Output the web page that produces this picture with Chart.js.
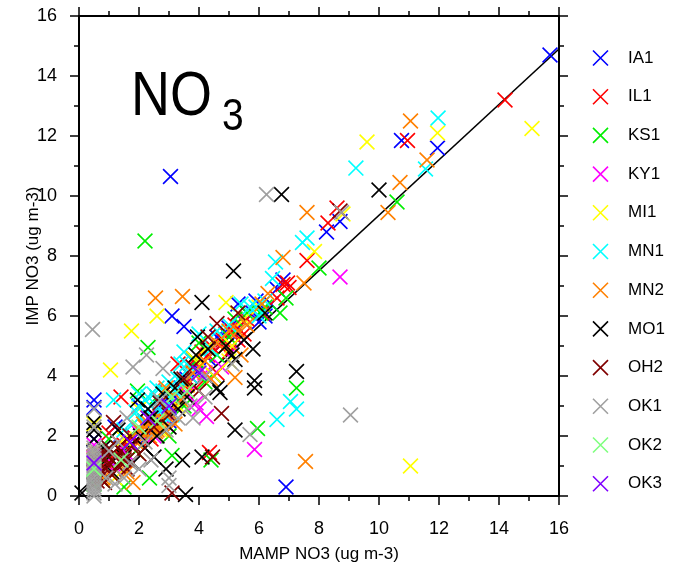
<!DOCTYPE html>
<html lang="en">
<head>
    <meta charset="UTF-8">
    <title>NO3 scatter</title>
    <style>
        body { margin: 0; background: #fff; }
        #chartBox { width: 674px; height: 573px; }
    </style>
    <script src="https://cdn.jsdelivr.net/npm/chart.js@4.4.6/dist/chart.umd.min.js"></script>
</head>
<body>
    <div id="chartBox"><canvas id="no3Chart" width="674" height="573"></canvas></div>
    <script>
        // site names and colours (legend order)
        const sites = ['IA1', 'IL1', 'KS1', 'KY1', 'MI1', 'MN1', 'MN2', 'MO1', 'OH2', 'OK1', 'OK2', 'OK3'];
        const siteColors = ['#0000ff', '#ff0000', '#00ee00', '#ff00ff', '#ffff00', '#00ffff',
                            '#ff8000', '#000000', '#800000', '#a0a0a0', '#80ff80', '#8000ff'];

        // [MAMP, IMP] pairs, ug m-3
        const IA1 = [[15.7,14.7],[11.95,11.6],[10.75,11.85],[3.05,10.65],[6.9,0.3],[8.7,9.15],[8.25,8.8],
            [3.1,6.0],[3.5,5.65],[0.5,3.2],[0.5,2.95],[5.8,6.1],[6.0,5.8],[5.5,5.8],[6.2,6.0],[5.3,6.4],
            [4.8,5.1],[4.3,4.6],[4.0,4.2],[3.6,3.9],[3.2,3.3],[2.8,3.1],[2.5,2.7],[2.2,2.4],[1.8,2.0],
            [1.4,1.6],[1.0,1.2],[0.7,0.9],[3.0,2.5],[4.5,4.0],[6.4,6.4],[6.8,7.2],[6.6,6.9],[5.0,5.6],
            [2.0,3.0],[1.2,2.3],[3.8,4.6],[0.5,1.9],[4.6,5.3],[5.9,6.5],[5.2,5.3],[3.4,3.6],[2.3,2.0]];
        const IL1 = [[14.2,13.2],[10.95,11.85],[8.6,9.6],[8.3,9.1],[7.6,7.85],[6.95,7.1],[1.4,3.3],[4.35,1.45],
            [4.9,5.4],[5.1,5.5],[5.3,5.2],[4.7,5.0],[4.3,4.7],[4.0,4.3],[3.7,4.0],[3.5,3.7],[3.0,3.2],
            [2.6,2.8],[2.2,2.5],[1.8,2.0],[1.5,1.7],[1.2,1.4],[0.9,1.1],[0.6,0.8],[0.5,1.3],[2.9,3.5],
            [4.6,4.1],[5.6,5.9],[6.1,6.1],[5.0,4.8],[3.3,4.4],[2.4,1.9],[1.0,2.1],[6.6,6.6],[4.4,5.0],
            [3.9,3.6],[7.0,6.95],[6.8,7.05],[4.8,5.2],[5.2,5.7],[4.1,4.8],[3.8,4.5],[5.5,5.4]];
        const KS1 = [[2.2,8.5],[10.6,9.8],[8.0,7.6],[7.25,3.6],[5.95,2.25],[2.3,4.95],[1.5,0.3],[6.9,6.6],
            [5.6,6.1],[6.05,6.1],[6.7,6.1],[1.95,3.5],[3.1,1.35],[2.35,0.6],[4.4,1.2],[0.5,0.4],[3.9,4.5],
            [4.2,3.8],[3.5,3.0],[2.8,2.5],[2.0,2.2],[1.3,1.0],[3.0,2.0],[4.0,5.1],[0.8,0.5],[5.0,5.3],
            [1.9,1.5],[2.6,3.3],[4.6,4.7],[1.0,1.9],[5.2,5.9],[6.2,6.3]];
        const KY1 = [[8.7,7.3],[5.85,1.55],[4.0,2.9],[4.25,2.65],[2.9,2.4],[3.2,3.0],[2.0,2.1],[1.6,1.4],
            [3.6,3.4],[4.2,4.1],[2.5,2.0],[1.2,1.0],[0.5,1.7],[2.3,2.9],[3.9,3.1],[5.2,4.9],[0.8,1.2],[4.75,4.3]];
        const MI1 = [[15.1,12.25],[11.05,1.0],[9.6,11.8],[11.95,12.1],[8.8,9.4],[7.85,8.15],[1.75,5.5],
            [1.05,4.2],[4.9,6.45],[2.6,6.0],[5.1,5.0],[4.8,5.3],[4.1,4.4],[3.6,3.7],[3.0,3.4],[2.4,2.6],
            [2.0,2.9],[1.5,1.9],[1.0,1.3],[0.5,2.4],[0.5,1.5],[5.5,5.9],[3.3,3.0],[6.0,6.3],[2.7,2.2],
            [4.5,4.0],[1.2,0.6],[5.0,4.5],[4.3,5.0],[3.8,4.6]];
        const MN1 = [[11.97,12.6],[9.23,10.93],[11.55,10.9],[7.6,8.6],[7.45,8.45],[6.55,7.8],[6.45,7.25],
            [7.25,2.9],[7.05,3.15],[6.6,2.55],[1.15,3.2],[5.4,6.4],[5.7,6.3],[6.2,6.5],[4.0,5.4],[3.4,4.4],
            [3.0,3.8],[2.8,3.5],[2.6,3.2],[2.4,3.0],[2.2,2.8],[2.0,2.6],[2.5,2.6],[2.9,3.0],[3.2,3.5],
            [2.3,3.3],[1.8,2.4],[1.5,2.2],[1.0,1.6],[3.7,4.0],[4.4,4.9],[2.7,2.9],[2.1,3.1],[0.5,0.8],
            [3.1,2.7],[5.0,5.7],[3.5,4.8],[2.6,3.6],[2.3,2.4],[2.5,3.4],[2.8,2.7],[3.3,3.9],[1.9,2.8],
            [2.0,3.4],[3.6,4.4],[4.6,5.5],[5.9,6.3],[6.0,6.0]];
        const MN2 = [[11.05,12.5],[11.6,11.2],[10.7,10.45],[10.3,9.45],[7.6,9.45],[7.55,1.15],[6.8,7.95],
            [7.5,7.1],[6.3,6.75],[2.55,6.6],[3.45,6.65],[5.2,3.95],[2.2,2.1],[2.3,2.2],[2.4,2.3],[2.5,2.4],
            [2.2,2.3],[2.35,2.0],[2.6,2.2],[2.1,1.9],[2.45,2.5],[2.3,2.45],[2.7,2.6],[2.0,2.2],[2.55,2.15],
            [2.15,2.4],[1.9,1.8],[1.5,1.3],[1.2,0.9],[0.8,0.6],[0.5,1.2],[3.0,2.8],[3.4,3.2],[3.8,4.1],
            [4.2,4.5],[4.6,5.1],[5.0,5.5],[5.6,5.7],[6.1,6.4],[4.4,3.9],[3.2,2.4],[1.6,0.8],[2.9,3.6],
            [5.4,4.7],[1.8,0.45],[3.6,3.7],[4.9,5.0],[5.3,5.5],[2.8,2.2]];
        const MO1 = [[6.75,10.05],[10.0,10.2],[5.15,7.5],[4.1,6.45],[7.25,4.15],[5.85,3.85],[5.85,3.6],
            [5.2,2.2],[3.55,0.05],[4.1,1.3],[5.2,4.55],[5.1,4.7],[1.95,3.2],[0.5,2.2],[0.5,2.45],[0.5,1.9],
            [2.05,2.0],[3.45,1.2],[2.4,2.6],[2.8,3.4],[3.2,3.6],[3.6,3.3],[3.9,4.7],[4.3,4.9],[2.2,1.6],
            [1.5,1.3],[1.1,0.8],[0.8,1.6],[2.6,2.0],[3.0,2.3],[4.6,3.6],[5.5,5.2],[5.8,4.9],[3.3,2.9],
            [1.8,1.1],[2.9,0.9],[1.3,2.2],[4.7,3.45],[3.95,5.3],[0.1,0.1],[2.5,1.3],[6.2,6.1],[1.0,1.3],
            [4.9,5.0],[3.4,3.9],[2.3,2.9],[1.6,1.9]];
        const OH2 = [[3.1,0.1],[4.45,1.3],[4.75,2.75],[4.6,5.75],[4.3,5.3],[8.7,9.5],[0.5,0.8],[0.6,1.0],
            [0.7,0.6],[0.8,1.2],[0.9,0.9],[1.0,1.1],[1.1,0.7],[1.2,1.3],[1.3,1.0],[1.4,1.5],[1.5,1.2],
            [1.6,0.9],[0.7,1.4],[1.0,1.6],[1.8,1.7],[2.0,1.4],[0.55,1.2],[1.15,2.45],[2.5,2.3],[3.0,2.7],
            [3.5,3.9],[3.8,4.3],[2.7,3.1],[4.0,3.5],[1.7,2.0],[5.3,6.1],[0.85,0.45],[1.3,1.6],[0.9,1.4],
            [1.6,1.2],[0.6,0.5]];
        const OK1 = [[9.05,2.7],[6.25,10.05],[0.45,5.55],[8.75,9.45],[5.7,2.05],[3.0,0.6],[2.25,4.7],
            [1.8,4.3],[2.8,4.25],[0.5,0.0],[0.5,0.1],[0.5,0.2],[0.5,0.3],[0.5,0.4],[0.5,0.5],[0.5,0.6],
            [0.5,0.7],[0.5,0.8],[0.5,0.9],[0.5,1.0],[0.5,1.1],[0.5,1.2],[0.5,1.3],[0.5,1.4],[0.5,1.5],
            [0.5,1.6],[0.5,2.3],[0.5,2.9],[1.0,1.5],[1.3,1.8],[1.7,1.1],[2.0,0.9],[2.4,1.2],[2.9,2.2],
            [3.3,2.6],[3.7,3.0],[4.2,4.0],[1.5,0.6],[2.2,1.8],[3.8,2.6],[0.9,0.6],[1.2,0.4],[2.7,3.2],
            [4.2,3.3],[1.6,2.6],[5.1,4.4],[3.0,0.35]];
        const OK2 = [[2.0,2.3],[2.6,2.5],[3.1,3.3],[1.4,1.2],[0.5,0.9],[3.6,3.5]];
        const OK3 = [[2.3,2.6],[3.0,3.0],[1.7,1.8],[0.5,1.1],[4.0,4.1]];
        const siteData = [IA1, IL1, KS1, KY1, MI1, MN1, MN2, MO1, OH2, OK1, OK2, OK3];

        // fitted line end points
        const fitX = [0, 16];
        const fitY = [0.12, 14.9];

        const font = 'Liberation Sans, Arial, sans-serif';

        const datasets = sites.map((name, i) => ({
            label: name,
            data: siteData[i].map(p => ({x: p[0], y: p[1]})),
            pointStyle: 'crossRot',
            pointRadius: 10.5,
            pointBorderWidth: 1.6,
            borderColor: siteColors[i],
            backgroundColor: siteColors[i],
            showLine: false,
            clip: false,
            order: sites.length - i
        }));
        datasets.push({
            label: 'fit',
            type: 'line',
            data: fitX.map((x, i) => ({x: x, y: fitY[i]})),
            borderColor: '#000',
            borderWidth: 1.6,
            pointRadius: 0,
            order: 100
        });

        // box with outward ticks on all four sides, title and legend
        const framePlugin = {
            id: 'frame',
            beforeDatasetsDraw(chart) {
                const {ctx, chartArea: a, scales: {x, y}} = chart;
                ctx.save();
                ctx.strokeStyle = '#000';
                ctx.lineWidth = 2;
                ctx.strokeRect(a.left, a.top, a.right - a.left, a.bottom - a.top);
                ctx.lineWidth = 1.5;
                ctx.beginPath();
                for (let v = 0; v <= 16; v++) {
                    const len = v % 2 === 0 ? 9 : 5;
                    const px = x.getPixelForValue(v);
                    ctx.moveTo(px, a.bottom); ctx.lineTo(px, a.bottom + len);
                    ctx.moveTo(px, a.top); ctx.lineTo(px, a.top - len);
                    const py = y.getPixelForValue(v);
                    ctx.moveTo(a.left, py); ctx.lineTo(a.left - len, py);
                    ctx.moveTo(a.right, py); ctx.lineTo(a.right + len, py);
                }
                ctx.stroke();
                ctx.restore();
            },
            afterDraw(chart) {
                const {ctx} = chart;
                ctx.save();
                // big species label
                ctx.fillStyle = '#000';
                ctx.textBaseline = 'alphabetic';
                ctx.save();
                ctx.translate(131, 115);
                ctx.scale(1, 1.16);
                ctx.font = '54px ' + font;
                ctx.fillText('NO', 0, 0);
                ctx.restore();
                ctx.save();
                ctx.translate(222, 130);
                ctx.scale(1, 1.16);
                ctx.font = '39px ' + font;
                ctx.fillText('3', 0, 0);
                ctx.restore();

                // legend
                ctx.font = '17px ' + font;
                ctx.textBaseline = 'middle';
                ctx.lineWidth = 1.6;
                sites.forEach((name, i) => {
                    const cy = 58 + i * 38.7;
                    ctx.strokeStyle = siteColors[i];
                    ctx.beginPath();
                    ctx.moveTo(593, cy - 7.5); ctx.lineTo(608, cy + 7.5);
                    ctx.moveTo(593, cy + 7.5); ctx.lineTo(608, cy - 7.5);
                    ctx.stroke();
                    ctx.fillStyle = '#000';
                    ctx.fillText(name, 628, cy);
                });
                ctx.restore();
            }
        };

        new Chart(document.getElementById('no3Chart'), {
            type: 'scatter',
            data: {datasets: datasets},
            options: {
                responsive: false,
                animation: false,
                events: [],
                layout: {padding: {top: 16, right: 115, left: 0, bottom: 0}},
                plugins: {legend: {display: false}, tooltip: {enabled: false}},
                scales: {
                    x: {
                        type: 'linear', min: 0, max: 16,
                        grid: {display: false},
                        border: {display: false},
                        ticks: {stepSize: 2, color: '#000', padding: 14, font: {family: font, size: 18}},
                        title: {display: true, text: 'MAMP NO3 (ug m-3)', color: '#000',
                                padding: {top: 0, bottom: 8}, font: {family: font, size: 17}},
                        afterFit: s => { s.height = 77; s.paddingLeft = 0; s.paddingRight = 0; }
                    },
                    y: {
                        type: 'linear', min: 0, max: 16,
                        grid: {display: false},
                        border: {display: false},
                        ticks: {stepSize: 2, color: '#000', padding: 14, font: {family: font, size: 18}},
                        title: {display: true, text: 'IMP NO3 (ug m-3)', color: '#000',
                                padding: {top: 23, bottom: 0}, font: {family: font, size: 17}},
                        afterFit: s => { s.width = 79; s.paddingTop = 0; s.paddingBottom = 0; }
                    }
                }
            },
            plugins: [framePlugin]
        });
    </script>
</body>
</html>
